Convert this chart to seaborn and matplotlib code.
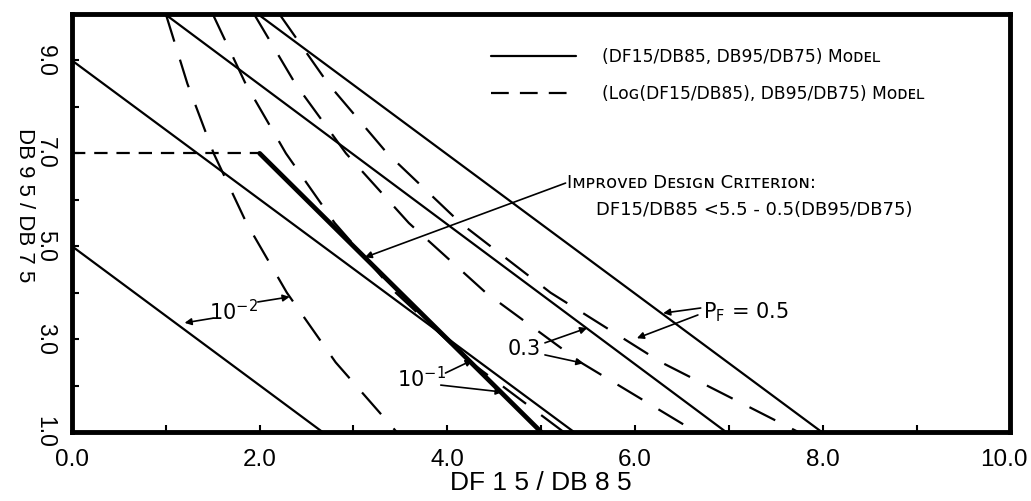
import matplotlib
matplotlib.use("Agg")
import matplotlib.pyplot as plt
import matplotlib.transforms as mtransforms
import seaborn as sns
import pandas as pd
from matplotlib.lines import Line2D

# ---- data -------------------------------------------------------------
# Linear (DF15/DB85, DB95/DB75) model: straight failure-probability contours
solid_pf = ["10^-2", "10^-1", "0.3", "0.5"]
solid_x_start = [0.00, 0.00, 0.99, 1.98]
solid_y_start = [5.0, 9.0, 10.0, 10.0]
solid_x_end = [2.67, 5.35, 6.97, 7.99]
solid_y_end = [1.0, 1.0, 1.0, 1.0]

# Log(DF15/DB85) model: contours read at fixed DB95/DB75 levels
dashed_y = [10.0, 8.5, 7.0, 5.5, 4.0, 2.5, 1.0]
dashed_1e2 = [1.00, 1.23, 1.51, 1.86, 2.29, 2.81, 3.46]
dashed_1e1 = [1.50, 1.85, 2.28, 2.80, 3.45, 4.25, 5.24]
dashed_03 = [1.94, 2.38, 2.92, 3.59, 4.41, 5.42, 6.65]
dashed_05 = [2.21, 2.73, 3.36, 4.14, 5.10, 6.28, 7.74]

# Improved design criterion  DF15/DB85 < 5.5 - 0.5 (DB95/DB75)
crit_y = [7.0, 1.0]
crit_x = [5.5 - 0.5 * v for v in crit_y]
cutoff_y = 7.0

x_ticks = [0, 2, 4, 6, 8, 10]
x_ticklabels = ["0.0", "2.0", "4.0", "6.0", "8.0", "10.0"]
y_ticks = [1, 3, 5, 7, 9]
y_ticklabels = ["1.0", "3.0", "5.0", "7.0", "9.0"]

# ---- tables -----------------------------------------------------------
solid_rows = []
for name, xs, ys, xe, ye in zip(solid_pf, solid_x_start, solid_y_start,
                                solid_x_end, solid_y_end):
    solid_rows.append({"pf": name, "x": xs, "y": ys})
    solid_rows.append({"pf": name, "x": xe, "y": ye})
solid_df = pd.DataFrame(solid_rows)

dashed_rows = []
for name, xs in zip(solid_pf, [dashed_1e2, dashed_1e1, dashed_03, dashed_05]):
    for xv, yv in zip(xs, dashed_y):
        dashed_rows.append({"pf": name, "x": xv, "y": yv})
dashed_df = pd.DataFrame(dashed_rows)

crit_df = pd.DataFrame({"x": crit_x, "y": crit_y})
cut_df = pd.DataFrame({"x": [0.0, crit_x[0]], "y": [cutoff_y, cutoff_y]})

# ---- style ------------------------------------------------------------
sns.set_style("ticks")
plt.rcParams["font.family"] = ["Liberation Sans", "DejaVu Sans"]
plt.rcParams["mathtext.fontset"] = "custom"
plt.rcParams["mathtext.rm"] = "DejaVu Sans"
for key in ["text.color", "axes.labelcolor", "xtick.color", "ytick.color",
            "axes.edgecolor"]:
    plt.rcParams[key] = "black"

ANNOT_FONT = ["DejaVu Sans"]

fig = plt.figure(figsize=(10.31, 5.01), dpi=100)
ax = fig.add_axes([0.0698, 0.1377, 0.9102, 0.8343])

LONG_DASH = (13, 8.5)

for name in solid_pf:
    sns.lineplot(data=solid_df[solid_df.pf == name], x="x", y="y",
                 sort=False, estimator=None, color="black", lw=1.6, ax=ax)
    line = sns.lineplot(data=dashed_df[dashed_df.pf == name], x="x", y="y",
                        sort=False, estimator=None, color="black", lw=1.6,
                        ax=ax).lines[-1]
    line.set_dashes(LONG_DASH)

sns.lineplot(data=crit_df, x="x", y="y", sort=False, estimator=None,
             color="black", lw=3.4, ax=ax)
cut = sns.lineplot(data=cut_df, x="x", y="y", sort=False, estimator=None,
                   color="black", lw=1.6, ax=ax).lines[-1]
cut.set_dashes((6, 4))

# ---- axes -------------------------------------------------------------
ax.set_xlim(0, 10)
ax.set_ylim(1, 10)
ax.set_xticks(x_ticks)
ax.set_xticklabels(x_ticklabels, fontsize=17.5)
ax.set_xticks([1, 3, 5, 7, 9], minor=True)
ax.set_yticks(y_ticks)
ax.set_yticklabels(y_ticklabels, fontsize=16.5, rotation=270, va="center")
ax.set_yticks([2, 4, 6, 8], minor=True)
ax.tick_params(which="both", direction="in", length=5, width=1.5,
               top=False, right=False)
ax.tick_params(axis="x", pad=12.5)
ax.tick_params(axis="y", pad=11)
# keep the last x label inside the canvas
last = ax.get_xticklabels()[-1]
last.set_transform(last.get_transform() +
                   mtransforms.ScaledTranslation(-5 / 72, 0,
                                                 fig.dpi_scale_trans))
for s in ax.spines.values():
    s.set_linewidth(3.5)
    s.set_visible(True)
ax.set_xlabel("DF 1 5 / DB 8 5", fontsize=19, labelpad=0)
ax.set_ylabel("DB 9 5 / DB 7 5", fontsize=16, rotation=270,
              va="center", ha="center")
ax.yaxis.set_label_coords(-0.051, 0.543)

# ---- legend -----------------------------------------------------------
h_solid = Line2D([], [], color="black", lw=1.6)
h_dash = Line2D([], [], color="black", lw=1.6, dashes=(8, 5))
ax.legend([h_solid, h_dash],
          ["(DF15/DB85, DB95/DB75) Mᴏᴅᴇʟ",
           "(Lᴏɢ(DF15/DB85), DB95/DB75) Mᴏᴅᴇʟ"],
          loc="upper left", bbox_to_anchor=(0.43, 0.955), frameon=False,
          handlelength=5.0, handletextpad=1.5, labelspacing=1.1,
          prop={"family": ANNOT_FONT, "size": 12.3})

# ---- annotations ------------------------------------------------------
arrow = dict(arrowstyle="-|>", lw=1.2, color="black", mutation_scale=10,
             shrinkA=0, shrinkB=0)
txt = dict(fontsize=13, color="black", family=ANNOT_FONT)

ax.annotate("", xy=(3.12, 4.76), xytext=(5.26, 6.36), arrowprops=arrow)
ax.text(5.28, 6.36, "Iᴍᴘʀᴏᴠᴇᴅ Dᴇꜱɪɢɴ Cʀɪᴛᴇʀɪᴏɴ:", va="center", ha="left",
        **txt)
ax.text(5.58, 5.78, "DF15/DB85 <5.5 - 0.5(DB95/DB75)", va="center",
        ha="left", **txt)

lab = dict(fontsize=15, family=ANNOT_FONT, va="center")
ax.text(1.72, 3.60, r"10$^{\mathregular{-2}}$", ha="center", **lab)
ax.annotate("", xy=(1.20, 3.35), xytext=(1.50, 3.45), arrowprops=arrow)
ax.annotate("", xy=(2.32, 3.91), xytext=(1.98, 3.80), arrowprops=arrow)

ax.text(3.72, 2.16, r"10$^{\mathregular{-1}}$", ha="center", **lab)
ax.annotate("", xy=(4.27, 2.55), xytext=(3.98, 2.27), arrowprops=arrow)
ax.annotate("", xy=(4.59, 1.86), xytext=(3.93, 2.01), arrowprops=arrow)

ax.text(4.82, 2.79, "0.3", ha="center", **lab)
ax.annotate("", xy=(5.49, 3.24), xytext=(5.04, 2.92), arrowprops=arrow)
ax.annotate("", xy=(5.45, 2.48), xytext=(5.04, 2.66), arrowprops=arrow)

ax.text(6.72, 3.58, r"P$_{\mathregular{F}}$ = 0.5", ha="left", **lab)
ax.annotate("", xy=(6.30, 3.56), xytext=(6.70, 3.67), arrowprops=arrow)
ax.annotate("", xy=(6.02, 3.02), xytext=(6.67, 3.52), arrowprops=arrow)

fig.savefig("out.png", dpi=100)
